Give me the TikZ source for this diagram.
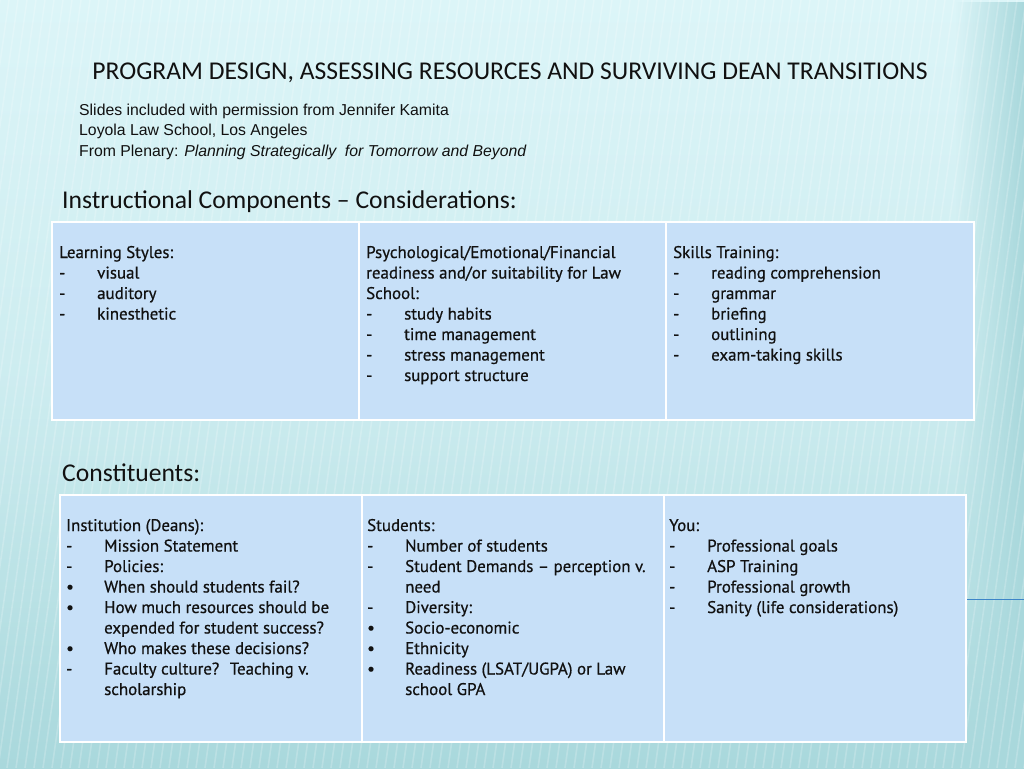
\documentclass[tikz,border=0pt]{standalone}
\usepackage{fontspec}
\usetikzlibrary{fadings}
\setmainfont{Carlito}
\newfontfamily\arialf{Liberation Sans}
\newfontfamily\tabf[FakeBold=0.6,Ligatures=TeX]{PT Sans}
\definecolor{bgtop}{HTML}{DCF5F8}
\definecolor{bgbot}{HTML}{A9D8DC}
\definecolor{cellfill}{HTML}{C7E0F8}
\definecolor{linkblue}{HTML}{3D85C8}
\definecolor{txt}{HTML}{111111}
\newcommand\dl[1]{\makebox[38pt][l]{-}#1}
\newcommand\bl[1]{\makebox[38pt][l]{\textbullet}#1}
\newcommand\cl[1]{\hspace*{38pt}#1}
\tikzset{
  cellbox/.style={draw=white, line width=2pt, fill=cellfill, anchor=north west, inner sep=0pt},
  celltext/.style={anchor=base west, inner sep=0pt, text=txt, font=\tabf\fontsize{16.9}{20.5}\selectfont},
  heading/.style={anchor=base west, inner sep=0pt, text=txt, font=\fontsize{25.6}{28}\selectfont},
}
\begin{document}
\begin{tikzpicture}[x=1pt,y=-1pt]
\useasboundingbox (0,0) rectangle (1024,768);
\shade[top color=bgtop, bottom color=bgbot, middle color=bgtop!70!bgbot] (0,0) rectangle (1024,768);
\fill[bgbot, path fading=west] (955,0) rectangle (1024,768);
\begin{scope}
\clip (0,0) rectangle (1024,768);
\foreach \i in {-200,-191,...,1040}
  \draw[white, opacity=0.2, line width=1.6pt] (\i+110,0) -- (\i,768);
\end{scope}
% title
\node[inner sep=0pt, text=txt, font=\fontsize{25.6}{28}\selectfont] (title) at (510,73) {PROGRAM DESIGN, ASSESSING RESOURCES AND SURVIVING DEAN TRANSITIONS};
\node[anchor=base west, inner sep=0pt, text=txt, font=\arialf\fontsize{15.8}{20.5}\selectfont] (sub) at (79,115)
  {\parbox[t]{600pt}{Slides included with permission from Jennifer Kamita\\Loyola Law School, Los Angeles\\From Plenary: \textit{Planning Strategically \ for Tomorrow and Beyond}}};
\node[heading] (h1) at (62,208) {Instructional Components \textendash{} Considerations:};
\node[heading] (h2) at (62,481) {Constituents:};
% table 1
\node[cellbox, minimum width=307pt, minimum height=198pt] (c11) at (51,221) {};
\node[cellbox, minimum width=307pt, minimum height=198pt] (c12) at (358,221) {};
\node[cellbox, minimum width=308pt, minimum height=198pt] (c13) at (665,221) {};
% table 2
\node[cellbox, minimum width=302pt, minimum height=247pt] (c21) at (59,494) {};
\node[cellbox, minimum width=302pt, minimum height=247pt] (c22) at (361,494) {};
\node[cellbox, minimum width=302pt, minimum height=247pt] (c23) at (663,494) {};
% link line
\coordinate (lk) at (1024,599);
\draw[linkblue, line width=1pt] (c23.east |- lk) -- (lk);
% texts table 1
\node[celltext] (t11) at (59,258) {\parbox[t]{295pt}{Learning Styles:\\\dl{visual}\\\dl{auditory}\\\dl{kinesthetic}}};
\node[celltext] (t12) at (366,258) {\parbox[t]{295pt}{Psychological/Emotional/Financial\\readiness and/or suitability for Law\\School:\\\dl{study habits}\\\dl{time management}\\\dl{stress management}\\\dl{support structure}}};
\node[celltext] (t13) at (673,258) {\parbox[t]{295pt}{Skills Training:\\\dl{reading comprehension}\\\dl{grammar}\\\dl{briefing}\\\dl{outlining}\\\dl{exam-taking skills}}};
% texts table 2
\node[celltext] (t21) at (66,531) {\parbox[t]{290pt}{Institution (Deans):\\\dl{Mission Statement}\\\dl{Policies:}\\\bl{When should students fail?}\\\bl{How much resources should be}\\\cl{expended for student success?}\\\bl{Who makes these decisions?}\\\dl{Faculty culture? \ Teaching v.}\\\cl{scholarship}}};
\node[celltext] (t22) at (367,531) {\parbox[t]{290pt}{Students:\\\dl{Number of students}\\\dl{Student Demands \textendash{} perception v.}\\\cl{need}\\\dl{Diversity:}\\\bl{Socio-economic}\\\bl{Ethnicity}\\\bl{Readiness (LSAT/UGPA) or Law}\\\cl{school GPA}}};
\node[celltext] (t23) at (669,531) {\parbox[t]{290pt}{You:\\\dl{Professional goals}\\\dl{ASP Training}\\\dl{Professional growth}\\\dl{Sanity (life considerations)}}};
\end{tikzpicture}
\end{document}
